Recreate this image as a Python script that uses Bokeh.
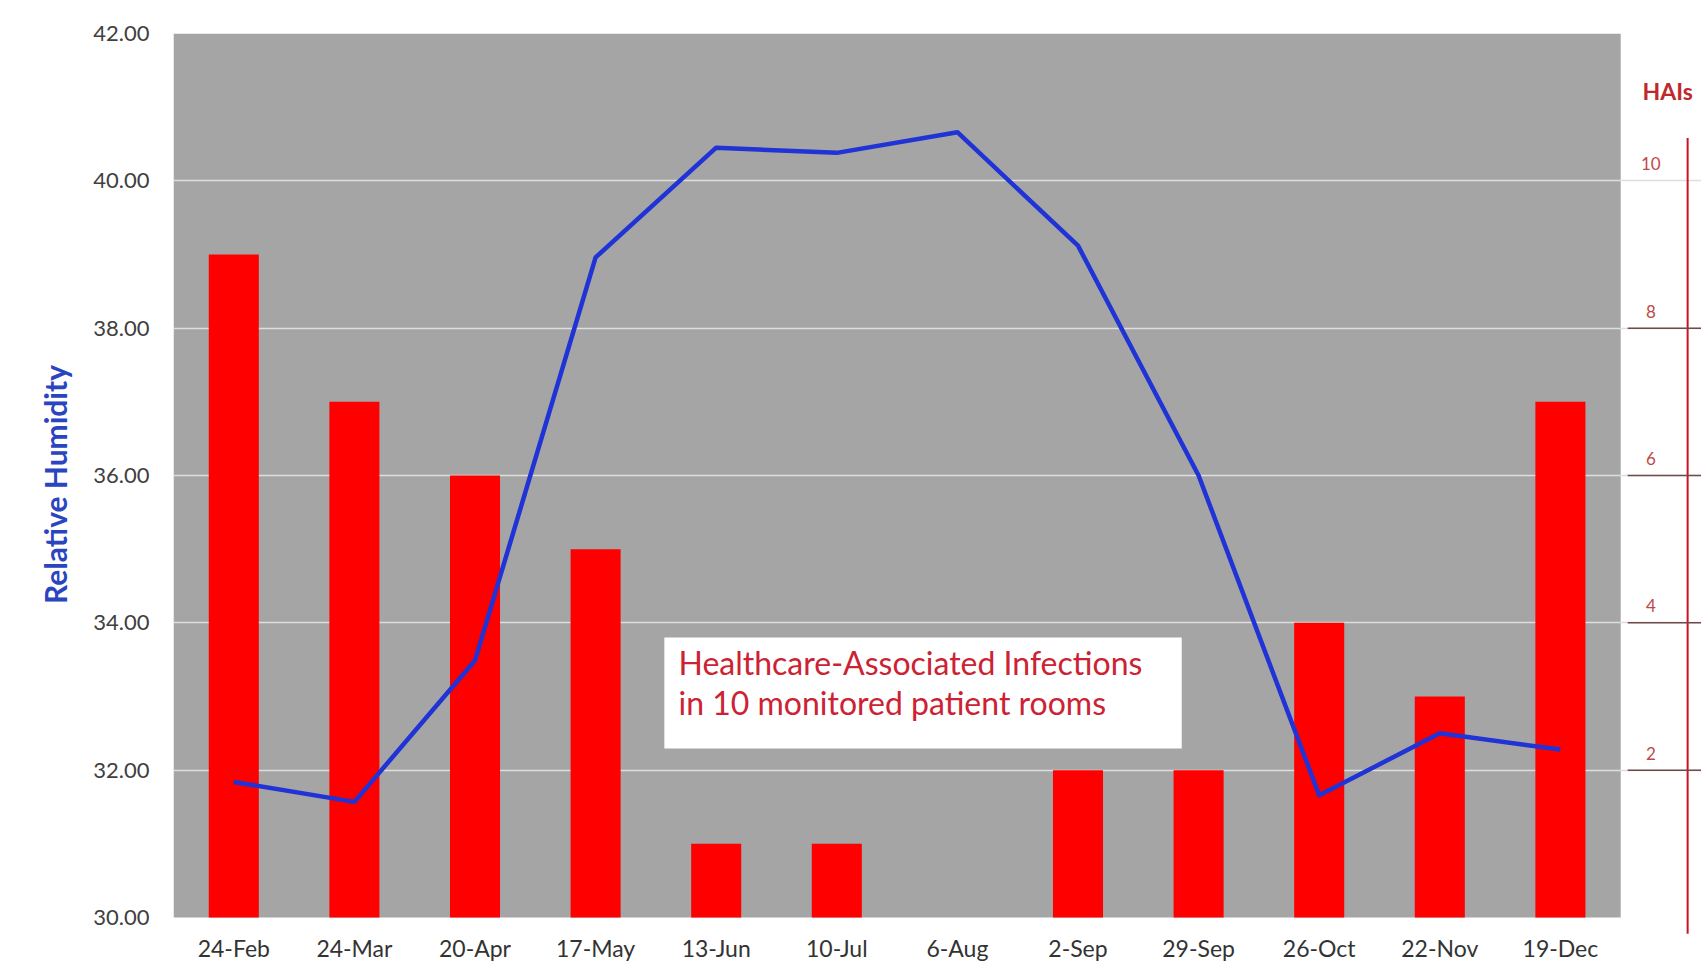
from bokeh.plotting import figure
from bokeh.models import (Range1d, FixedTicker, NumeralTickFormatter,
                          BoxAnnotation, Label)
from bokeh.core.properties import value
from bokeh.embed import file_html
from bokeh.resources import INLINE

# ---------------- data ----------------
dates = ["24-Feb", "24-Mar", "20-Apr", "17-May", "13-Jun", "10-Jul",
         "6-Aug", "2-Sep", "29-Sep", "26-Oct", "22-Nov", "19-Dec"]
relative_humidity = [31.84, 31.57, 33.49, 38.96, 40.45, 40.38,
                     40.66, 39.12, 36.00, 31.66, 32.50, 32.28]
hais = [9, 7, 6, 5, 1, 1, 0, 2, 2, 4, 3, 7]
rh_ticks = [30, 32, 34, 36, 38, 40, 42]
rh_grid = [32, 34, 36, 38, 40]
hai_ticks = [2, 4, 6, 8, 10]
hai_tick_lines = [2, 4, 6, 8]
note_lines = ["Healthcare-Associated Infections", "in 10 monitored  patient rooms"]

# ---------------- layout constants ----------------
FONT = "Lato"
n = len(dates)
xc = [i + 0.5 for i in range(n)]
RH_MIN, RH_MAX = 30, 42
rh_bottom = 29.756            # frame extends a little below 30 for the right axis line
x_end = n + 0.67              # white margin on the right for the HAI axis
hai_offset = RH_MIN           # HAI axis: 0 at RH 30, 2 per gridline

p = figure(width=1701, height=968, output_backend="svg", toolbar_location=None,
           x_range=Range1d(0, x_end), y_range=Range1d(rh_bottom, RH_MAX),
           min_border_left=173, min_border_top=33, min_border_right=0,
           min_border_bottom=33, background_fill_color="white",
           border_fill_color="white")
p.outline_line_color = None
p.extra_y_ranges = {"hai": Range1d(rh_bottom - hai_offset, RH_MAX - hai_offset)}

# gray plotting area
p.add_layout(BoxAnnotation(left=0, right=n, bottom=RH_MIN, top=RH_MAX,
                           fill_color="#a5a5a5", fill_alpha=1.0,
                           line_color=None, level="image"))

# grid
p.xgrid.visible = False
p.ygrid.ticker = FixedTicker(ticks=rh_grid)
p.ygrid.grid_line_color = "#dedede"
p.ygrid.grid_line_width = 1.5

# left axis
ya = p.yaxis[0]
ya.ticker = FixedTicker(ticks=rh_ticks)
ya.formatter = NumeralTickFormatter(format="0.00")
ya.axis_line_color = None
ya.major_tick_line_color = None
ya.minor_tick_line_color = None
ya.major_label_standoff = 18
ya.major_label_text_font = FONT
ya.major_label_text_font_size = "22px"
ya.major_label_text_color = "#404040"
ya.axis_label = "Relative Humidity"
ya.axis_label_text_font = FONT
ya.axis_label_text_font_style = "bold"
ya.axis_label_text_font_size = "30px"
ya.axis_label_text_color = "#2a45c0"
ya.axis_label_standoff = 17

# bottom axis
xa = p.xaxis[0]
xa.ticker = FixedTicker(ticks=xc)
xa.major_label_overrides = {x: d for x, d in zip(xc, dates)}
xa.axis_line_color = None
xa.major_tick_line_color = None
xa.minor_tick_line_color = None
xa.major_label_standoff = -8
xa.major_label_text_font = FONT
xa.major_label_text_font_size = "23px"
xa.major_label_text_color = "#333333"

# bars (HAIs) on the right-hand scale
p.vbar(x=xc, top=hais, bottom=0, width=0.415, y_range_name="hai",
       fill_color="#ff0000", line_color=None)

# humidity line
p.line(x=xc, y=relative_humidity, line_color="#1f33d6", line_width=4.5,
       line_join="round")

# right-hand HAI axis (drawn in the white margin)
axis_x = n + 0.555
p.segment(x0=[axis_x], y0=[-0.22], x1=[axis_x], y1=[10.58], y_range_name="hai",
          line_color="#cc1122", line_width=2)
p.segment(x0=[n + 0.058] * len(hai_tick_lines), y0=hai_tick_lines,
          x1=[x_end] * len(hai_tick_lines), y1=hai_tick_lines, y_range_name="hai",
          line_color="#6e4b4b", line_width=1.5)
p.text(x=[n + 0.25] * len(hai_ticks), y=hai_ticks,
       text=[str(t) for t in hai_ticks], y_range_name="hai",
       text_font=value(FONT), text_font_size="17px", text_color="#c04848",
       text_align="center", text_baseline="middle", y_offset=-17)
p.add_layout(Label(x=n + 0.39, y=11.226, y_range_name="hai", text="HAIs",
                   text_font=FONT, text_font_style="bold", text_font_size="23px",
                   text_color="#c0282d", text_align="center",
                   text_baseline="middle"))

# note box
p.add_layout(BoxAnnotation(left=4.07, right=8.36, bottom=32.295, top=33.80,
                           fill_color="white", fill_alpha=1.0, line_color=None))
for txt, yy in zip(note_lines, [33.46, 32.92]):
    p.add_layout(Label(x=4.187, y=yy, text=txt, text_font=FONT,
                       text_font_size="32px", text_color="#cc2233",
                       text_align="left", text_baseline="middle"))

open("out.html", "w").write(file_html(p, INLINE))
